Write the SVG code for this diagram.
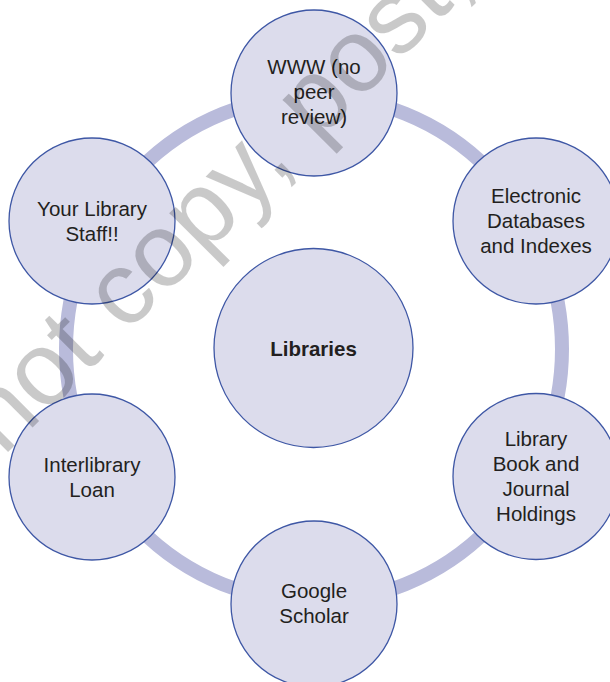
<svg xmlns="http://www.w3.org/2000/svg" width="610" height="682" viewBox="0 0 610 682">
<style>
.node{fill:#dcdcec;stroke:#3e57a5;stroke-width:1.3}
.lbl{font-family:"Liberation Sans",Arial,sans-serif;font-size:20.5px;fill:#231f20;text-anchor:middle}
.bold{font-weight:bold}
.ring{fill:none;stroke:#b9bbdb;stroke-width:14}
.wm{font-family:"Liberation Sans",Arial,sans-serif;font-size:104px;fill:#000;fill-opacity:0.21}
</style>
<rect width="610" height="682" fill="#fff"/>
<g id="connectors">
<ellipse class="ring" cx="314" cy="349" rx="248" ry="253"/>
</g>
<g id="node-center">
<circle class="node" cx="313.5" cy="348" r="99.5"/>
<text class="lbl bold" x="313.5" y="355.5">Libraries</text>
</g>
<g id="node-www">
<circle class="node" cx="314" cy="93" r="83"/>
<text class="lbl" x="314" y="74">WWW (no</text>
<text class="lbl" x="314" y="99">peer</text>
<text class="lbl" x="314" y="124">review)</text>
</g>
<g id="node-electronic">
<circle class="node" cx="536" cy="221" r="83"/>
<text class="lbl" x="536" y="203">Electronic</text>
<text class="lbl" x="536" y="228">Databases</text>
<text class="lbl" x="536" y="253">and Indexes</text>
</g>
<g id="node-holdings">
<circle class="node" cx="536" cy="476.5" r="83"/>
<text class="lbl" x="536" y="446">Library</text>
<text class="lbl" x="536" y="471">Book and</text>
<text class="lbl" x="536" y="496">Journal</text>
<text class="lbl" x="536" y="521">Holdings</text>
</g>
<g id="node-scholar">
<circle class="node" cx="314" cy="604" r="83"/>
<text class="lbl" x="314" y="598">Google</text>
<text class="lbl" x="314" y="623">Scholar</text>
</g>
<g id="node-ill">
<circle class="node" cx="92" cy="477" r="83"/>
<text class="lbl" x="92" y="471.5">Interlibrary</text>
<text class="lbl" x="92" y="496.5">Loan</text>
</g>
<g id="node-staff">
<circle class="node" cx="92" cy="221" r="83"/>
<text class="lbl" x="92" y="215.5">Your Library</text>
<text class="lbl" x="92" y="240.5">Staff!!</text>
</g>
<g id="watermark">
<text class="wm" transform="translate(3 457) rotate(-45)">not copy, post,</text>
</g>
</svg>
